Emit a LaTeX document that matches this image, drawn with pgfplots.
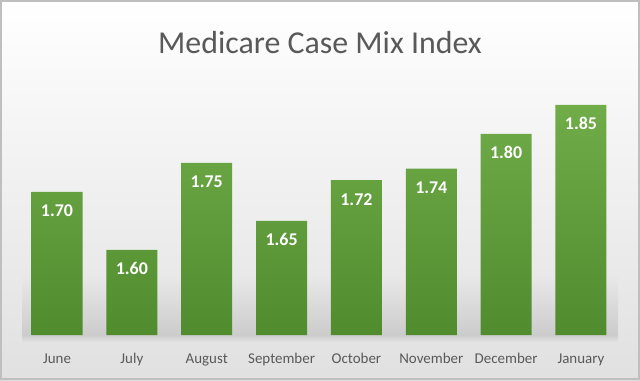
\documentclass[border=0pt]{standalone}
\usepackage{pgfplots}
\pgfplotsset{compat=1.18}
\usepackage{fontspec}
\setmainfont{Carlito}
\definecolor{txt}{RGB}{89,89,89}
\definecolor{bartop}{RGB}{112,172,72}
\definecolor{barbot}{RGB}{80,140,46}
\begin{document}
\begin{tikzpicture}[x=1bp,y=1bp]
\shade[top color=white, bottom color=black!12] (0,0) rectangle (640,380);
\draw[black!25, line width=1.5bp] (1,1) rectangle (639,379);
\shade[top color=black!8.8, bottom color=black!20] (22,45) rectangle (618,105);
\shade[top color=black!20, bottom color=black!11] (22,38) rectangle (618,45);
\node[anchor=base, font=\fontsize{32}{34}\selectfont, text=txt] at (320,327) {Medicare Case Mix Index};
\begin{axis}[
  at={(19.6bp,45bp)}, anchor=south west,
  scale only axis, width=598.8bp, height=240bp,
  xmin=-0.5, xmax=7.5, ymin=1.453, ymax=1.867,
  axis x line*=bottom, axis y line=none,
  axis line style={draw=none},
  major tick length=0pt,
  xtick=data,
  xticklabels={June,July,August,September,October,November,December,January},
  ytick=\empty,
  xticklabel style={anchor=base, yshift=-28bp, font=\fontsize{15}{17}\selectfont, text=txt},
  clip=false,
]
\addplot[ybar, bar width=51bp, draw=none, top color=bartop, bottom color=barbot,
  nodes near coords, point meta=explicit symbolic,
  nodes near coords style={anchor=base, yshift=-25bp, font=\fontsize{18}{20}\selectfont\bfseries, text=white}]
  coordinates {(0,1.70)[1.70] (1,1.60)[1.60] (2,1.75)[1.75] (3,1.65)[1.65] (4,1.72)[1.72] (5,1.74)[1.74] (6,1.80)[1.80] (7,1.85)[1.85]};
\end{axis}
\end{tikzpicture}
\end{document}
